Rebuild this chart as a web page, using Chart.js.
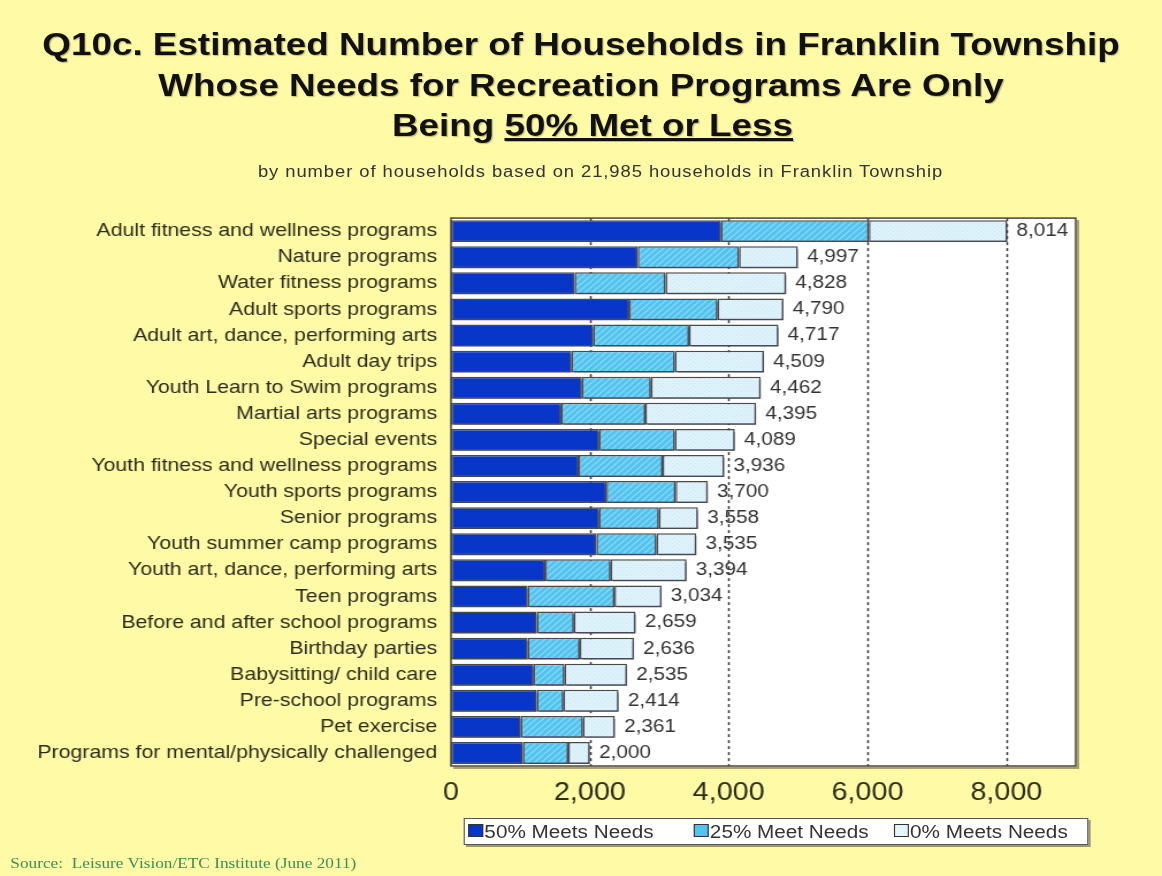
<!DOCTYPE html>
<html>
<head>
<meta charset="utf-8">
<title>Q10c Franklin Township recreation programs</title>
<script src="https://cdn.jsdelivr.net/npm/chart.js@4.4.1/dist/chart.umd.min.js"></script>
<style>
    html, body { margin: 0; padding: 0; background: #fffaa6; }
    body { width: 1162px; height: 876px; overflow: hidden; position: relative; font-family: "Liberation Sans", Arial, sans-serif; }
    /* the whole slide is laid out on a narrower stage and widened */
    #stage { position: absolute; left: 0; top: 0; width: 1010px; height: 876px; transform: scaleX(1.1505); transform-origin: 0 0; }
    .title { position: absolute; left: 0; width: 1010px; text-align: center; font-weight: bold; font-size: 32px; line-height: 41px; color: #111; text-shadow: 1px 1px 1px rgba(0,0,0,0.25); }
    .subtitle { position: absolute; left: 0; top: 163px; width: 1044px; text-align: center; font-size: 16px; line-height: 18px; letter-spacing: 0.8px; color: #333; }
    #chartBox { position: absolute; left: 0; top: 195px; }
    #legend { position: absolute; left: 403px; top: 818px; width: 541px; height: 25px; background: #fff; border: 1px solid #555; box-shadow: 2px 2px 0 #9a9a70; }
    .item { position: absolute; top: 3px; font-size: 18px; line-height: 20px; color: #333; white-space: nowrap; }
    .swatch { display: inline-block; width: 11px; height: 11px; border: 1px solid #333; margin-right: 1px; vertical-align: 1px; }
    .source { position: absolute; left: 9px; top: 855px; font-family: "Liberation Serif", "Times New Roman", serif; font-size: 15px; color: #3a8f55; }
</style>
</head>
<body>
<div id="stage">
    <div class="title" style="top:24px">Q10c. Estimated Number of Households in Franklin Township</div>
    <div class="title" style="top:65px">Whose Needs for Recreation Programs Are Only</div>
    <div class="title" style="top:105px; width:1030px">Being <u>50% Met or Less</u></div>
    <div class="subtitle">by number of households based on 21,985 households in Franklin Township</div>
    <div id="chartBox"><canvas id="needsChart" width="1010" height="620"></canvas></div>
    <div id="legend"></div>
    <div class="source">Source:&nbsp; Leisure Vision/ETC Institute (June 2011)</div>
</div>
<script>
const categories = [
    "Adult fitness and wellness programs",
    "Nature programs",
    "Water fitness programs",
    "Adult sports programs",
    "Adult art, dance, performing arts",
    "Adult day trips",
    "Youth Learn to Swim programs",
    "Martial arts programs",
    "Special events",
    "Youth fitness and wellness programs",
    "Youth sports programs",
    "Senior programs",
    "Youth summer camp programs",
    "Youth art, dance, performing arts",
    "Teen programs",
    "Before and after school programs",
    "Birthday parties",
    "Babysitting/ child care",
    "Pre-school programs",
    "Pet exercise",
    "Programs for mental/physically challenged"
];
const meets50 = [3890, 2690, 1780, 2570, 2050, 1735, 1885, 1590, 2135, 1840, 2240, 2135, 2095, 1360, 1105, 1235, 1105, 1190, 1235, 1005, 1035];
const meets25 = [2130, 1460, 1310, 1270, 1380, 1490, 995, 1210, 1090, 1210, 995, 860, 865, 940, 1250, 535, 750, 445, 385, 895, 655];
const meets0 = [1994, 847, 1738, 950, 1287, 1284, 1582, 1595, 864, 886, 465, 563, 575, 1094, 679, 889, 781, 900, 794, 461, 310];
const xTicks = [0, 2000, 4000, 6000, 8000];
const seriesNames = ["50% Meets Needs", "25% Meet Needs", "0% Meets Needs"];

const labelColor = "#2c2c1c";

// diagonal hatch for the 25% segments
function hatchPattern() {
    const c = document.createElement("canvas");
    c.width = 6; c.height = 6;
    const g = c.getContext("2d");
    g.fillStyle = "#52c3ef";
    g.fillRect(0, 0, 6, 6);
    g.strokeStyle = "#93daf6";
    g.lineWidth = 1.2;
    g.beginPath();
    g.moveTo(0, 6); g.lineTo(6, 0);
    g.moveTo(-1, 1); g.lineTo(1, -1);
    g.moveTo(5, 7); g.lineTo(7, 5);
    g.stroke();
    return g.createPattern(c, "repeat");
}

// faint speckle for the 0% segments
function dotPattern() {
    const c = document.createElement("canvas");
    c.width = 4; c.height = 4;
    const g = c.getContext("2d");
    g.fillStyle = "#def2fb";
    g.fillRect(0, 0, 4, 4);
    g.fillStyle = "#cbe8f4";
    g.fillRect(0, 0, 1, 1);
    g.fillRect(2, 2, 1, 1);
    return g.createPattern(c, "repeat");
}

const fills = ["#0736c9", hatchPattern(), dotPattern()];
const swatchColors = ["#0736c9", "#52c3ef", "#e6f5fb"];

// white plot area, dashed gridlines and a frame
const plotFrame = {
    id: "plotFrame",
    beforeDatasetsDraw(chart) {
        const { ctx, chartArea, scales } = chart;
        ctx.save();
        ctx.fillStyle = "#fff";
        ctx.fillRect(chartArea.left, chartArea.top, chartArea.right - chartArea.left, chartArea.bottom - chartArea.top);
        ctx.strokeStyle = "#3a3a3a";
        ctx.lineWidth = 1.5;
        ctx.setLineDash([3, 3]);
        xTicks.forEach(v => {
            if (v === 0) return;
            const x = Math.round(scales.x.getPixelForValue(v)) + 0.5;
            ctx.beginPath();
            ctx.moveTo(x, chartArea.top);
            ctx.lineTo(x, chartArea.bottom);
            ctx.stroke();
        });
        ctx.restore();
        // bar drop shadow
        ctx.save();
        ctx.shadowColor = "rgba(70, 70, 90, 0.75)";
        ctx.shadowOffsetX = 2;
        ctx.shadowOffsetY = 3;
        ctx.shadowBlur = 0;
    },
    afterDatasetsDraw(chart) {
        const { ctx, chartArea, scales } = chart;
        ctx.restore();
        ctx.save();
        ctx.strokeStyle = "#444";
        ctx.lineWidth = 1.5;
        ctx.strokeRect(chartArea.left, chartArea.top, chartArea.right - chartArea.left, chartArea.bottom - chartArea.top);
        ctx.strokeStyle = "#a8a070";
        ctx.lineWidth = 2;
        ctx.beginPath();
        ctx.moveTo(chartArea.left + 2, chartArea.bottom + 2);
        ctx.lineTo(chartArea.right + 2, chartArea.bottom + 2);
        ctx.lineTo(chartArea.right + 2, chartArea.top + 2);
        ctx.stroke();

        // household totals at the end of each bar
        ctx.font = "18px 'Liberation Sans', Arial, sans-serif";
        ctx.fillStyle = "#333";
        ctx.textBaseline = "middle";
        ctx.textAlign = "left";
        categories.forEach((cat, i) => {
            const total = meets50[i] + meets25[i] + meets0[i];
            const x = scales.x.getPixelForValue(total) + 8;
            const y = scales.y.getPixelForValue(i);
            ctx.fillText(total.toLocaleString("en-US"), x, y);
        });
        ctx.restore();
    }
};

const ctx = document.getElementById("needsChart").getContext("2d");
const chart = new Chart(ctx, {
    type: "bar",
    data: {
        labels: categories,
        datasets: [meets50, meets25, meets0].map((d, i) => ({
            label: seriesNames[i],
            data: d,
            backgroundColor: fills[i],
            borderColor: "#4a4a4a",
            borderWidth: 1.5,
            borderSkipped: false,
            categoryPercentage: 1,
            barPercentage: 0.84
        }))
    },
    options: {
        indexAxis: "y",
        responsive: false,
        animation: false,
        layout: { padding: { top: 10, right: 75, bottom: 9, left: 0 } },
        plugins: {
            legend: { display: false },
            tooltip: { enabled: false }
        },
        scales: {
            x: {
                stacked: true,
                min: 0,
                max: 9000,
                grid: { display: false, drawTicks: false },
                border: { display: false },
                afterBuildTicks: scale => { scale.ticks = xTicks.map(v => ({ value: v })); },
                afterFit: scale => { scale.height = 40; },
                ticks: {
                    padding: 12,
                    color: labelColor,
                    font: { family: "'Liberation Sans', Arial, sans-serif", size: 25 },
                    callback: v => v.toLocaleString("en-US")
                }
            },
            y: {
                stacked: true,
                grid: { display: false, drawTicks: false },
                border: { display: false },
                afterFit: scale => { scale.width = 392; },
                ticks: {
                    padding: 12,
                    autoSkip: false,
                    color: labelColor,
                    font: { family: "'Liberation Sans', Arial, sans-serif", size: 18.5 }
                }
            }
        }
    },
    plugins: [plotFrame]
});

// legend box under the axis
const legend = document.getElementById("legend");
const legendLeft = [3, 199, 373];
seriesNames.forEach((name, i) => {
    const item = document.createElement("div");
    item.className = "item";
    item.style.left = legendLeft[i] + "px";
    item.innerHTML = '<span class="swatch" style="background:' + swatchColors[i] + '"></span>' + name;
    legend.appendChild(item);
});
</script>
</body>
</html>
